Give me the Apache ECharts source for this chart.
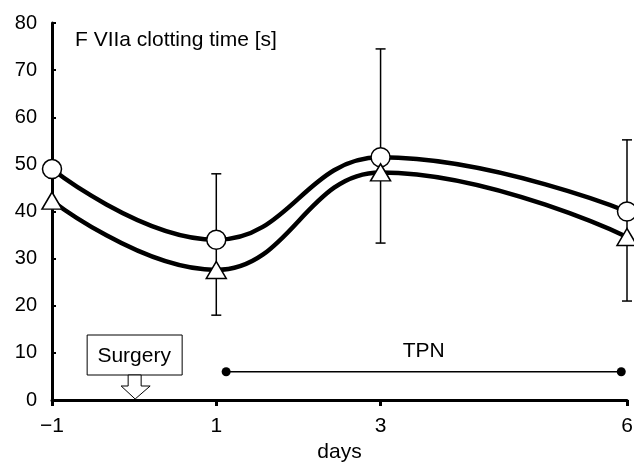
<!DOCTYPE html>
<html><head><meta charset="utf-8">
<script src="https://cdn.jsdelivr.net/npm/echarts@6/dist/echarts.min.js"></script>
<style>html,body{margin:0;padding:0;background:#fff}#c{width:634px;height:462px}</style>
</head><body><div id="c"></div>
<script>
const days = [-1, 1, 3, 6];
const circleVals = [49, 34, 51.5, 40];
const triangleVals = [42.3, 27.6, 48.3, 34.6];
const errDays = [1, 3, 6];
const errLow = [18, 33.3, 21];
const errHigh = [48, 74.5, 55.2];
const yTicks = [0, 10, 20, 30, 40, 50, 60, 70, 80];
const xTicks = [-1, 1, 3, 6];
const tpnStart = 1.12, tpnEnd = 5.93, tpnLevel = 6;
const surgeryDay = 0;

const F = '"Liberation Sans", Arial, Helvetica, sans-serif';
const chart = echarts.init(document.getElementById('c'), null, {renderer: 'canvas'});

const pairs = (xs, ys) => xs.map((x, i) => [x, ys[i]]);

chart.setOption({
  animation: false,
  backgroundColor: '#fff',
  title: {
    text: 'F VIIa clotting time [s]', left: 70, top: 25,
    textStyle: {fontFamily: F, fontSize: 21, fontWeight: 'normal', color: '#000'}
  },
  grid: {left: 52, right: 7, top: 23, bottom: 62, containLabel: false, outerBoundsMode: 'none'},
  xAxis: {
    type: 'value', min: -1, max: 6,
    name: 'days', nameLocation: 'middle', nameGap: 35,
    nameTextStyle: {fontFamily: F, fontSize: 21, color: '#000'},
    axisLine: {show: true, onZero: false, lineStyle: {color: '#000', width: 3}},
    axisTick: {show: true, customValues: xTicks, length: 6, inside: false, lineStyle: {color: '#000', width: 3}},
    axisLabel: {customValues: xTicks, fontFamily: F, fontSize: 21, color: '#000', margin: 16,
      formatter: v => v < 0 ? '\u2212' + Math.abs(v) : String(v)},
    splitLine: {show: false}
  },
  yAxis: {
    type: 'value', min: 0, max: 80, interval: 10,
    axisLine: {show: true, onZero: false, lineStyle: {color: '#000', width: 3}},
    axisTick: {show: true, inside: true, length: 4, lineStyle: {color: '#000', width: 2}},
    axisLabel: {fontFamily: F, fontSize: 20, color: '#000', margin: 15},
    splitLine: {show: false}
  },
  series: [
    {
      type: 'custom', z: 1, clip: false,
      data: errDays.map((d, i) => [d, errLow[i], errHigh[i]]),
      renderItem: (params, api) => {
        const x = api.value(0);
        const lo = api.coord([x, api.value(1)]);
        const hi = api.coord([x, api.value(2)]);
        const st = {stroke: '#000', lineWidth: 1.5};
        return {type: 'group', children: [
          {type: 'line', shape: {x1: lo[0], y1: lo[1], x2: hi[0], y2: hi[1]}, style: st},
          {type: 'line', shape: {x1: lo[0] - 5, y1: lo[1], x2: lo[0] + 5, y2: lo[1]}, style: st},
          {type: 'line', shape: {x1: hi[0] - 5, y1: hi[1], x2: hi[0] + 5, y2: hi[1]}, style: st}
        ]};
      }
    },
    {
      type: 'line', z: 3, data: pairs(days, circleVals), smooth: 0.45, smoothMonotone: 'x',
      symbol: 'circle', symbolSize: 19, showAllSymbol: true,
      lineStyle: {color: '#000', width: 4.5},
      itemStyle: {color: '#fff', borderColor: '#000', borderWidth: 1.5}
    },
    {
      type: 'line', z: 3, data: pairs(days, triangleVals), smooth: 0.45, smoothMonotone: 'x',
      symbol: 'triangle', symbolSize: [20, 17], showAllSymbol: true,
      lineStyle: {color: '#000', width: 4.5},
      itemStyle: {color: '#fff', borderColor: '#000', borderWidth: 1.5}
    },
    {
      type: 'line', z: 2, data: [[tpnStart, tpnLevel], [tpnEnd, tpnLevel]],
      symbol: 'circle', symbolSize: 9,
      lineStyle: {color: '#000', width: 1.5},
      itemStyle: {color: '#000'}
    },
    {
      type: 'custom', z: 4, clip: false,
      data: [[(tpnStart + tpnEnd) / 2, tpnLevel]],
      renderItem: (params, api) => {
        const p = api.coord([api.value(0), api.value(1)]);
        return {type: 'text', x: p[0], y: p[1] - 21,
          style: {text: 'TPN', fill: '#000', font: '21px ' + F, align: 'center', verticalAlign: 'middle'}};
      }
    },
    {
      type: 'custom', z: 4, clip: false,
      data: [[surgeryDay, 0]],
      renderItem: (params, api) => {
        const p = api.coord([api.value(0), api.value(1)]);
        const x = p[0] + 1, y = p[1] - 1;
        const st = {stroke: '#000', lineWidth: 1, fill: '#fff'};
        return {type: 'group', children: [
          {type: 'rect', shape: {x: x - 48, y: y - 64, width: 95, height: 40}, style: st},
          {type: 'text', x: x - 1, y: y - 43,
            style: {text: 'Surgery', fill: '#000', font: '21px ' + F, align: 'center', verticalAlign: 'middle'}},
          {type: 'polygon', shape: {points: [
            [x, y], [x - 14, y - 13], [x - 7, y - 13], [x - 7, y - 24],
            [x + 6, y - 24], [x + 6, y - 13], [x + 15, y - 13]]}, style: st}
        ]};
      }
    }
  ]
});
</script></body></html>
